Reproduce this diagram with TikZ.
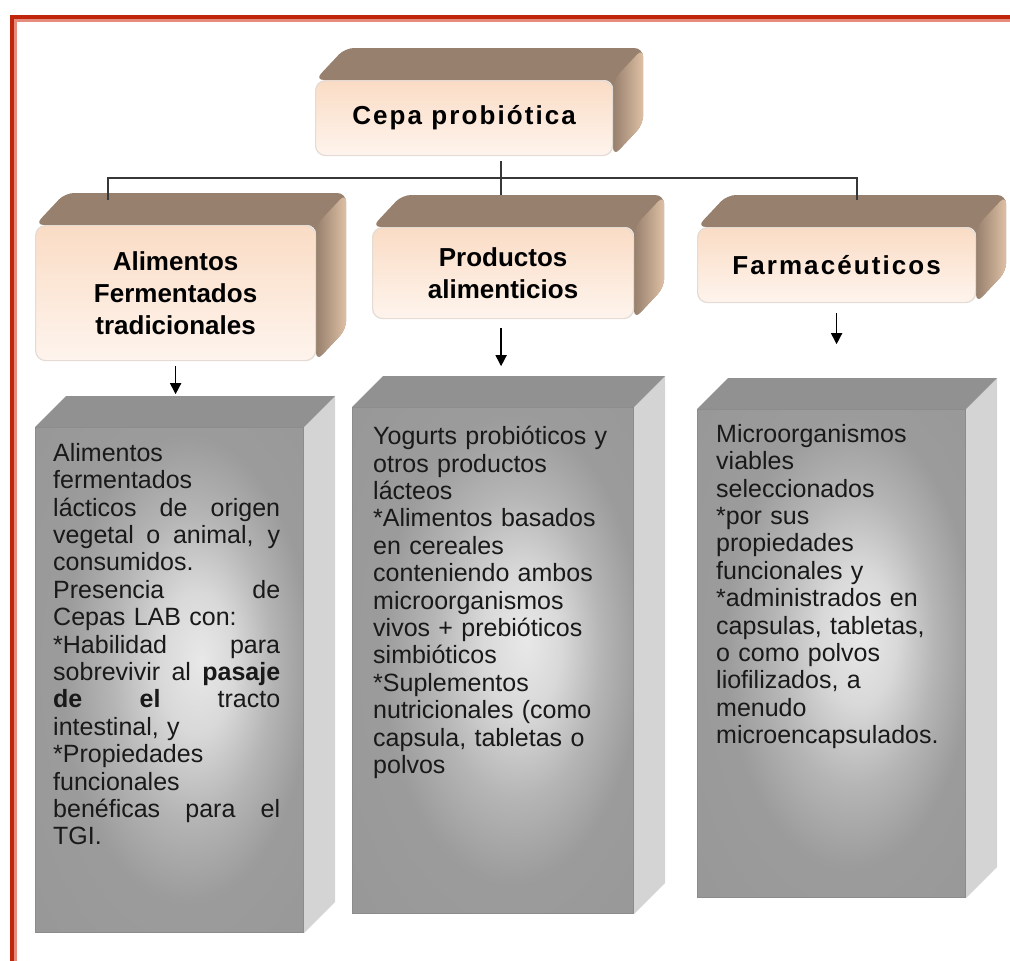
\documentclass[tikz,border=0pt]{standalone}
\usepackage{fontspec}
\setmainfont{Liberation Sans}
\newfontfamily\anchafont[LetterSpace=8]{Liberation Sans}
\usetikzlibrary{positioning}
\usetikzlibrary{arrows.meta}
\usetikzlibrary{backgrounds}

\definecolor{rojomarco}{RGB}{192,38,12}
\definecolor{rojoclaro}{RGB}{229,140,124}
\definecolor{tapa}{RGB}{151,128,109}
\definecolor{canela}{RGB}{222,192,165}
\definecolor{melocoton}{RGB}{250,220,197}
\definecolor{crema}{RGB}{254,244,237}
\definecolor{bordecrema}{RGB}{228,219,212}
\definecolor{linea}{RGB}{55,55,55}

\pgfdeclareradialshading{brillo}{\pgfpoint{6bp}{2bp}}{color(0bp)=(black!9); color(7bp)=(black!15); color(15bp)=(black!29); color(23bp)=(black!39); color(50bp)=(black!42)}

\newcommand{\estira}[1]{\makebox[227pt][s]{\spaceskip=0.28em plus 1fil\relax #1}}

% caras de arriba y del lado
\newcommand{\carasmarron}[1]{%
  \begin{scope}[on background layer]
    \fill[tapa, rounded corners=9pt] (#1.north west) -- ([xshift=30pt,yshift=32pt]#1.north west) -- ([xshift=30pt,yshift=32pt]#1.north east) -- ([xshift=30pt,yshift=32pt]#1.south east) -- (#1.south east) -- (#1.north east) -- cycle;
    \shade[left color=tapa, right color=canela, rounded corners=9pt] (#1.north east) -- ([xshift=30pt,yshift=32pt]#1.north east) -- ([xshift=30pt,yshift=32pt]#1.south east) -- (#1.south east) -- cycle;
  \end{scope}}
\newcommand{\carasgris}[1]{%
  \begin{scope}[on background layer]
    \fill[black!17] (#1.north east) -- ([xshift=31pt,yshift=31pt]#1.north east) -- ([xshift=31pt,yshift=31pt]#1.south east) -- (#1.south east) -- cycle;
    \fill[black!43] (#1.north west) -- ([xshift=31pt,yshift=31pt]#1.north west) -- ([xshift=31pt,yshift=31pt]#1.north east) -- (#1.north east) -- cycle;
  \end{scope}}

\tikzset{
  frente/.style={rectangle, rounded corners=10pt, top color=melocoton, bottom color=crema, draw=bordecrema, line width=1.2pt, anchor=north west, align=center, inner sep=0pt, font=\fontsize{26}{32}\selectfont\bfseries},
  frentegris/.style={rectangle, shade, shading=brillo, draw=black!45, line width=1pt, anchor=north west, inner sep=0pt},
  texto/.style={anchor=north west, inner sep=0pt, align=left, text=black!90, font=\fontsize{25}{27.4}\selectfont},
  conector/.style={draw=linea, line width=2.2pt},
  flecha/.style={draw=black, line width=1.6pt, -{Triangle[length=11pt,width=11pt]}}
}

\begin{document}
\begin{tikzpicture}[x=1pt, y=-1pt]
\useasboundingbox (0,0) rectangle (1010,961);

% marco
\draw[rojoclaro, line width=3pt] (15.5,961) -- (15.5,20.5) -- (1010,20.5);
\draw[rojomarco, line width=4pt] (12,961) -- (12,17) -- (1010,17);

% cepa
\node[frente, minimum width=297pt, minimum height=75pt] (cepa) at (315,80) {{\anchafont Cepa probiótica}};
\carasmarron{cepa}

% tipos de producto
\node[frente, minimum width=280pt, minimum height=135pt] (alimentos) at (35,225) {Alimentos\\Fermentados\\tradicionales};
\carasmarron{alimentos}
\node[frente, minimum width=261pt, minimum height=91pt] (productos) at (372,227) {Productos\\alimenticios};
\carasmarron{productos}
\node[frente, minimum width=278pt, minimum height=75pt] (farma) at (697,227) {{\anchafont Farmacéuticos}};
\carasmarron{farma}

% cajas grises
\node[frentegris, minimum width=268pt, minimum height=505pt] (gris1) at (35,427) {};
\carasgris{gris1}
\node[frentegris, minimum width=281pt, minimum height=506pt] (gris2) at (352,407) {};
\carasgris{gris2}
\node[frentegris, minimum width=268pt, minimum height=488pt] (gris3) at (697,409) {};
\carasgris{gris3}

\node[texto, text width=240pt] (txt1) at (53,443) {Alimentos\\
fermentados\\
\estira{lácticos de origen}\\
\estira{vegetal o animal, y}\\
consumidos.\\
\estira{Presencia de}\\
Cepas LAB con:\\
\estira{*Habilidad para}\\
\estira{sobrevivir al \textbf{pasaje}}\\
\estira{\textbf{de el} tracto}\\
intestinal, y\\
{*}Propiedades\\
funcionales\\
\estira{benéficas para el}\\
TGI.};

\node[texto, text width=265pt] (txt2) at (373,426) {Yogurts probióticos y\\
otros productos\\
lácteos\\
{*}Alimentos basados\\
en cereales\\
conteniendo ambos\\
microorganismos\\
vivos + prebióticos\\
simbióticos\\
{*}Suplementos\\
nutricionales (como\\
capsula, tabletas o\\
polvos};

\node[texto, text width=250pt] (txt3) at (716,424) {Microorganismos\\
viables\\
seleccionados\\
{*}por sus\\
propiedades\\
funcionales y\\
{*}administrados en\\
capsulas, tabletas,\\
o como polvos\\
liofilizados, a\\
menudo\\
microencapsulados.};

% conectores
\coordinate (bus) at (500,178);
\coordinate (alimentostapa) at (108,200);
\coordinate (farmatapa) at (857,200);
\coordinate (cepabajo) at ([xshift=37pt,yshift=-5pt]cepa.south);
\coordinate (productostapa) at ([yshift=32pt]productos.north);
\draw[conector] (cepabajo) -- (cepabajo |- productostapa);
\draw[conector] (alimentostapa) |- (bus) -| (farmatapa);

\draw[flecha] ([yshift=-5pt]alimentos.south) -- ([yshift=-33pt]alimentos.south);
\draw[flecha] ([xshift=-2pt,yshift=-9pt]productos.south) -- ([xshift=-2pt,yshift=-47pt]productos.south);
\draw[flecha] ([yshift=-10pt]farma.south) -- ([yshift=-41pt]farma.south);
\end{tikzpicture}
\end{document}
